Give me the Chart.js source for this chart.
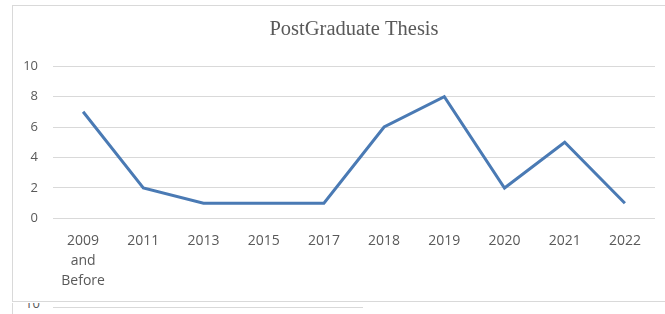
<!DOCTYPE html>
<html lang="en">

<head>
  <meta charset="UTF-8">
  <title>PostGraduate Thesis</title>
  <script src="https://cdn.jsdelivr.net/npm/chart.js"></script>
  <style>
    html, body { margin: 0; padding: 0; background: #fff; overflow: hidden; width: 665px; height: 314px; }
    #box { position: absolute; left: 12px; top: 5px; width: 680px; height: 295px; border: 1px solid #d9d9d9; }
    #box canvas { display: block; }
    #next { position: absolute; left: 12px; top: 303px; width: 680px; height: 40px; border-left: 1px solid #d9d9d9; overflow: hidden; }
    #next span { position: absolute; left: 12px; top: -9px; font: 13px "Open Sans", sans-serif; color: #595959; }
    #next div { position: absolute; left: 40px; top: 4px; width: 310px; height: 1px; background: #d9d9d9; }
  </style>
</head>

<body>
  <div id="box"><canvas id="myChart" width="680" height="295"></canvas></div>
  <div id="next"><span>10</span><div></div></div>

  <script>
    const years = [['2009', 'and', 'Before'], '2011', '2013', '2015', '2017', '2018', '2019', '2020', '2021', '2022']
    const theses = [7, 2, 1, 1, 1, 6, 8, 2, 5, 1]
    const yTicks = [0, 2, 4, 6, 8, 10]

    // center the title over the plot area like Excel does
    const titleOverPlot = {
      id: 'titleOverPlot',
      beforeDraw(chart) {
        if (chart.titleBlock) {
          chart.titleBlock.left = chart.chartArea.left
          chart.titleBlock.right = chart.chartArea.right
        }
      }
    }

    const ctx = document.getElementById('myChart')

    new Chart(ctx, {
      type: 'line',
      data: {
        labels: years,
        datasets: [{
          label: 'PostGraduate Thesis',
          data: theses,
          borderColor: '#4a7ab4',
          borderWidth: 3,
          pointRadius: 0,
          tension: 0,
          fill: false
        }]
      },
      plugins: [titleOverPlot],
      options: {
        responsive: false,
        animation: false,
        layout: { padding: { left: 0, right: 38, top: 0, bottom: 0 } },
        plugins: {
          legend: { display: false },
          tooltip: { enabled: false },
          title: {
            display: true,
            text: 'PostGraduate Thesis',
            color: '#595959',
            font: { family: '"Liberation Serif", serif', size: 20.5, weight: 'normal' },
            padding: { top: 11, bottom: 24.5 }
          }
        },
        scales: {
          x: {
            offset: true,
            afterFit(scale) { scale.height -= 2.5 },
            grid: { display: false, drawTicks: false },
            border: { display: false },
            ticks: {
              color: '#595959',
              font: { family: '"Open Sans", sans-serif', size: 14, lineHeight: 1.43 },
              padding: 12.5,
              maxRotation: 0,
              autoSkip: false
            }
          },
          y: {
            min: 0,
            max: 10,
            afterFit(scale) { scale.width = 40 },
            afterBuildTicks(scale) { scale.ticks = yTicks.map(v => ({ value: v })) },
            grid: { color: '#d9d9d9', drawTicks: false, lineWidth: 1 },
            border: { display: false },
            ticks: {
              color: '#595959',
              font: { family: '"Open Sans", sans-serif', size: 13 },
              padding: 15
            }
          }
        }
      }
    })
  </script>
</body>

</html>
